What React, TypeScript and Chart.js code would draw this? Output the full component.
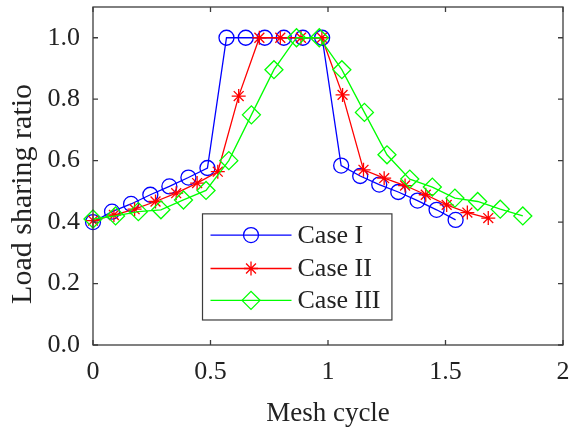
import React, { useEffect, useRef } from 'react';
import { Chart, registerables } from 'chart.js';
import { drawPoint } from 'chart.js/helpers';

Chart.register(...registerables);

// ---- data ----
const seriesNames = ['Case I', 'Case II', 'Case III'];
const seriesColors = ['#0000ff', '#ff0000', '#00ff00'];
const seriesMarkers = ['circle', 'star', 'rectRot'];
const seriesMarkerSizes = [7.5, 7, 9];

const xCase1 = [0, 0.081, 0.162, 0.244, 0.325, 0.406, 0.487, 0.568, 0.65, 0.731, 0.812, 0.893, 0.975, 1.056, 1.137, 1.218, 1.299, 1.381, 1.462, 1.543];
const yCase1 = [0.4, 0.434, 0.459, 0.489, 0.516, 0.545, 0.576, 1.0, 1.0, 1.0, 1.0, 1.0, 1.0, 0.584, 0.55, 0.522, 0.498, 0.47, 0.44, 0.407];

const xCase2 = [0, 0.089, 0.177, 0.266, 0.354, 0.443, 0.531, 0.62, 0.708, 0.797, 0.885, 0.974, 1.062, 1.151, 1.239, 1.328, 1.416, 1.505, 1.593, 1.682];
const yCase2 = [0.405, 0.423, 0.442, 0.467, 0.494, 0.527, 0.564, 0.81, 1.0, 1.0, 1.0, 1.0, 0.814, 0.57, 0.543, 0.519, 0.489, 0.456, 0.431, 0.413];

const xCase3 = [0, 0.096, 0.193, 0.289, 0.385, 0.481, 0.578, 0.674, 0.77, 0.866, 0.963, 1.059, 1.155, 1.251, 1.348, 1.444, 1.54, 1.637, 1.733, 1.829];
const yCase3 = [0.41, 0.42, 0.434, 0.44, 0.472, 0.503, 0.6, 0.749, 0.896, 1.0, 1.0, 0.896, 0.757, 0.619, 0.54, 0.514, 0.478, 0.467, 0.442, 0.42];

const xTicks = [0, 0.5, 1, 1.5, 2];
const yTicks = [0, 0.2, 0.4, 0.6, 0.8, 1.0];
const xTickLabels = ['0', '0.5', '1', '1.5', '2'];
const yTickLabels = ['0.0', '0.2', '0.4', '0.6', '0.8', '1.0'];
const xTitle = 'Mesh cycle';
const yTitle = 'Load sharing ratio';

const FONT = "'Liberation Serif', 'Times New Roman', serif";
const AXIS_COLOR = '#3c3c3c';
const TEXT_COLOR = '#222222';

const xs = [xCase1, xCase2, xCase3];
const ys = [yCase1, yCase2, yCase3];

const framePlugin = {
  id: 'frame',
  afterDatasetsDraw(chart: any) {
    const { ctx, chartArea: ca, scales } = chart;
    ctx.save();
    ctx.strokeStyle = AXIS_COLOR;
    ctx.lineWidth = 1.3;
    ctx.strokeRect(ca.left, ca.top, ca.right - ca.left, ca.bottom - ca.top);
    const tl = 5;
    ctx.beginPath();
    xTicks.forEach((v) => {
      const px = scales.x.getPixelForValue(v);
      ctx.moveTo(px, ca.bottom);
      ctx.lineTo(px, ca.bottom - tl);
      ctx.moveTo(px, ca.top);
      ctx.lineTo(px, ca.top + tl);
    });
    yTicks.forEach((v) => {
      const py = scales.y.getPixelForValue(v);
      ctx.moveTo(ca.left, py);
      ctx.lineTo(ca.left + tl, py);
      ctx.moveTo(ca.right, py);
      ctx.lineTo(ca.right - tl, py);
    });
    ctx.stroke();
    ctx.restore();
  },
};

const textPlugin = {
  id: 'yTitleAndLegend',
  afterDraw(chart: any) {
    const { ctx, chartArea: ca } = chart;
    const w = ca.right - ca.left;
    const h = ca.bottom - ca.top;
    ctx.save();
    // y axis title
    ctx.font = `30px ${FONT}`;
    ctx.fillStyle = TEXT_COLOR;
    ctx.textAlign = 'center';
    ctx.textBaseline = 'middle';
    ctx.translate(23, ca.top + h * 0.553);
    ctx.rotate(-Math.PI / 2);
    ctx.fillText(yTitle, 0, 0);
    ctx.restore();

    // legend box
    ctx.save();
    const bx = ca.left + w * 0.233;
    const by = ca.top + h * 0.612;
    const bw = w * 0.403;
    const bh = h * 0.314;
    ctx.fillStyle = '#ffffff';
    ctx.fillRect(bx, by, bw, bh);
    ctx.strokeStyle = AXIS_COLOR;
    ctx.lineWidth = 1.2;
    ctx.strokeRect(bx, by, bw, bh);
    const rowYs = [0.2, 0.515, 0.815];
    seriesNames.forEach((name, i) => {
      const ry = by + bh * rowYs[i];
      const l0 = bx + 8;
      const l1 = bx + 89;
      ctx.strokeStyle = seriesColors[i];
      ctx.lineWidth = 1.3;
      ctx.beginPath();
      ctx.moveTo(l0, ry);
      ctx.lineTo(l1, ry);
      ctx.stroke();
      ctx.fillStyle = 'rgba(0,0,0,0)';
      ctx.strokeStyle = seriesColors[i];
      ctx.lineWidth = 1.3;
      drawPoint(ctx, { pointStyle: seriesMarkers[i], rotation: 0, radius: seriesMarkerSizes[i], borderWidth: 1.3 } as any, (l0 + l1) / 2, ry);
      ctx.fillStyle = TEXT_COLOR;
      ctx.font = `26px ${FONT}`;
      ctx.textAlign = 'left';
      ctx.textBaseline = 'middle';
      ctx.fillText(name, bx + 95, ry + 1);
    });
    ctx.restore();
  },
};

export default function App() {
  const ref = useRef<HTMLCanvasElement | null>(null);
  useEffect(() => {
    if (!ref.current) return;
    const datasets = seriesNames.map((name, i) => ({
      label: name,
      data: xs[i].map((x, j) => ({ x, y: ys[i][j] })),
      borderColor: seriesColors[i],
      backgroundColor: 'rgba(0,0,0,0)',
      pointBorderColor: seriesColors[i],
      pointBackgroundColor: 'rgba(0,0,0,0)',
      pointStyle: seriesMarkers[i],
      pointRadius: seriesMarkerSizes[i],
      pointBorderWidth: 1.3,
      borderWidth: 1.3,
      tension: 0,
      clip: false as any,
      order: 3 - i,
    }));
    const chart = new Chart(ref.current, {
      type: 'line',
      data: { datasets },
      options: {
        animation: false,
        responsive: false,
        maintainAspectRatio: false,
        events: [],
        layout: { autoPadding: false, padding: { top: 7, right: 6, left: 0, bottom: 0 } },
        plugins: { legend: { display: false }, tooltip: { enabled: false } },
        scales: {
          x: {
            type: 'linear',
            min: 0,
            max: 2,
            grid: { display: false, drawTicks: false },
            border: { display: false },
            ticks: {
              padding: 12,
              color: TEXT_COLOR,
              font: { family: FONT, size: 26 },
              maxRotation: 0,
              autoSkip: false,
              callback: (v: any) => {
                const k = xTicks.indexOf(Number(v));
                return k >= 0 ? xTickLabels[k] : '';
              },
            },
            afterBuildTicks: (s: any) => {
              s.ticks = xTicks.map((v) => ({ value: v }));
            },
            afterFit: (s: any) => {
              s.height = 82;
              s.paddingLeft = 0;
              s.paddingRight = 0;
            },
            title: {
              display: true,
              text: xTitle,
              color: TEXT_COLOR,
              font: { family: FONT, size: 27 },
              padding: { top: 0, bottom: -3 },
            },
          },
          y: {
            type: 'linear',
            min: 0,
            max: 1.1,
            grid: { display: false, drawTicks: false },
            border: { display: false },
            ticks: {
              padding: 13,
              color: TEXT_COLOR,
              font: { family: FONT, size: 26 },
              autoSkip: false,
              includeBounds: false,
              callback: (v: any) => {
                const k = yTicks.findIndex((t) => Math.abs(t - Number(v)) < 1e-9);
                return k >= 0 ? yTickLabels[k] : '';
              },
            },
            afterBuildTicks: (s: any) => {
              s.ticks = yTicks.map((v) => ({ value: v }));
            },
            afterFit: (s: any) => {
              s.width = 93;
              s.paddingTop = 0;
              s.paddingBottom = 0;
            },
          },
        },
      },
      plugins: [framePlugin, textPlugin],
    });
    return () => chart.destroy();
  }, []);
  return (
    <div style={{ position: 'fixed', left: 0, top: 0, width: 569, height: 427, background: '#ffffff' }}>
      <canvas ref={ref} width={569} height={427} style={{ display: 'block' }} />
    </div>
  );
}
